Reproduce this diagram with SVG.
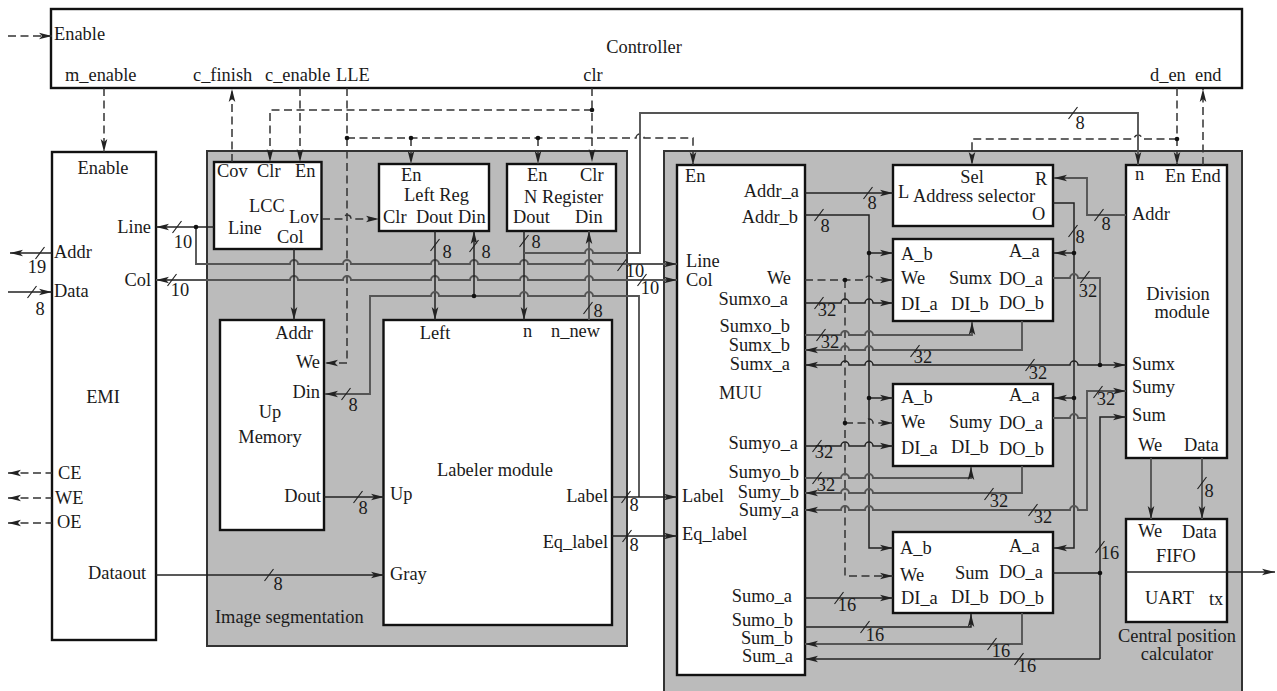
<svg xmlns="http://www.w3.org/2000/svg" width="1277" height="691" viewBox="0 0 1277 691">
<defs>
<marker id="a" markerUnits="userSpaceOnUse" markerWidth="14" markerHeight="8" refX="13" refY="4" orient="auto-start-reverse"><path d="M0 .7L13 4L0 7.3L3 4z" fill="#222"/></marker>
</defs>
<style>
text{font-family:"Liberation Serif","Times New Roman",serif;font-size:18.400px;fill:#1a1a1a}
.m{text-anchor:middle}.e{text-anchor:end}
.b{fill:#fff;stroke:#111;stroke-width:2.400}
.r{fill:#bbb;stroke:#333;stroke-width:2}
.l,.g,.d,.s{fill:none}
.l{stroke:#222;stroke-width:1.500}
.g{stroke:#555;stroke-width:1.900}
.d{stroke:#333;stroke-width:1.500;stroke-dasharray:8 4.500}
.s{stroke:#222;stroke-width:1.200}
.a{marker-end:url(#a)}.n{marker-start:url(#a)}
.o{fill:#111}
</style>
<rect width="1277" height="691" fill="#fff"/>
<g id="image-segmentation"><rect class="r" x="207" y="151" width="420" height="495"/><text x="215" y="623">Image segmentation</text></g>
<g id="central-position-calculator"><rect class="r" x="664" y="151" width="578" height="545"/><text class="m" x="1177" y="642">Central position</text><text class="m" x="1177" y="660">calculator</text></g>
<g id="controller"><rect class="b" x="51" y="9" width="1191" height="79"/><text x="54" y="40">Enable</text><text class="m" x="644" y="53">Controller</text><text x="65" y="81">m_enable</text><text x="193" y="81">c_finish</text><text x="265" y="81">c_enable</text><text x="336" y="81">LLE</text><text class="m" x="593" y="81">clr</text><text x="1150" y="81">d_en</text><text x="1195" y="81">end</text></g>
<g id="emi"><rect class="b" x="52" y="152" width="104" height="488"/><text class="m" x="103" y="174">Enable</text><text class="e" x="151" y="233">Line</text><text class="e" x="151" y="286">Col</text><text x="54" y="258">Addr</text><text x="54" y="297">Data</text><text class="m" x="103" y="403">EMI</text><text x="58" y="479">CE</text><text x="55" y="504">WE</text><text x="57" y="528">OE</text><text x="88" y="579">Dataout</text></g>
<g id="lcc"><rect class="b" x="214" y="162" width="107.500" height="87"/><text x="217" y="177">Cov</text><text x="257" y="177">Clr</text><text x="295" y="177">En</text><text x="249" y="212">LCC</text><text x="228" y="234">Line</text><text x="289" y="223">Lov</text><text x="277" y="243">Col</text></g>
<g id="left-reg"><rect class="b" x="379" y="164" width="110" height="67"/><text x="401" y="181">En</text><text x="404" y="201">Left Reg</text><text x="383" y="223">Clr</text><text x="416" y="223">Dout</text><text x="458" y="223">Din</text></g>
<g id="n-register"><rect class="b" x="507" y="164" width="109" height="67"/><text x="527" y="181">En</text><text x="580" y="181">Clr</text><text x="524" y="203">N Register</text><text x="513" y="223">Dout</text><text x="575" y="223">Din</text></g>
<g id="up-memory"><rect class="b" x="220" y="320" width="104" height="210"/><text class="e" x="313" y="339">Addr</text><text class="e" x="320" y="368">We</text><text class="e" x="320" y="398">Din</text><text class="m" x="270" y="418">Up</text><text class="m" x="270" y="443">Memory</text><text class="e" x="321" y="502">Dout</text></g>
<g id="labeler"><rect class="b" x="383.500" y="320" width="228.500" height="305"/><text class="m" x="435" y="339">Left</text><text x="523" y="337">n</text><text x="551" y="337">n_new</text><text class="m" x="495" y="476">Labeler module</text><text x="390" y="500">Up</text><text x="390" y="580">Gray</text><text class="e" x="608" y="502">Label</text><text class="e" x="608" y="548">Eq_label</text></g>
<g id="muu"><rect class="b" x="677" y="165" width="128" height="510"/><text x="685" y="182">En</text><text class="e" x="799" y="197">Addr_a</text><text class="e" x="798" y="223">Addr_b</text><text x="686" y="267">Line</text><text x="686" y="286">Col</text><text class="e" x="791" y="284">We</text><text class="e" x="788" y="305">Sumxo_a</text><text class="e" x="790" y="332">Sumxo_b</text><text class="e" x="790" y="351">Sumx_b</text><text class="e" x="790" y="370">Sumx_a</text><text x="719" y="399">MUU</text><text class="e" x="798" y="449">Sumyo_a</text><text class="e" x="799" y="478">Sumyo_b</text><text class="e" x="799" y="498">Sumy_b</text><text class="e" x="799" y="516">Sumy_a</text><text x="682" y="502">Label</text><text x="682" y="540">Eq_label</text><text class="e" x="792" y="602">Sumo_a</text><text class="e" x="793" y="626">Sumo_b</text><text class="e" x="793" y="644">Sum_b</text><text class="e" x="793" y="662">Sum_a</text></g>
<g id="address-selector"><rect class="b" x="893" y="165" width="160" height="61"/><text class="m" x="972" y="183">Sel</text><text x="1035" y="185">R</text><text x="898" y="198">L</text><text x="913" y="202">Address selector</text><text x="1032" y="220">O</text></g>
<g id="sumx"><rect class="b" x="893" y="239" width="160" height="82"/><text x="901" y="260">A_b</text><text x="1009" y="257">A_a</text><text x="901" y="284">We</text><text x="949" y="284">Sumx</text><text x="999" y="285">DO_a</text><text x="901" y="310">DI_a</text><text x="951" y="310">DI_b</text><text x="999" y="309">DO_b</text></g>
<g id="sumy"><rect class="b" x="893" y="384" width="160" height="82"/><text x="901" y="403">A_b</text><text x="1009" y="401">A_a</text><text x="901" y="428">We</text><text x="949" y="428">Sumy</text><text x="999" y="429">DO_a</text><text x="901" y="454">DI_a</text><text x="951" y="453">DI_b</text><text x="999" y="455">DO_b</text></g>
<g id="sum"><rect class="b" x="893" y="532" width="160" height="81"/><text x="900" y="554">A_b</text><text x="1009" y="552">A_a</text><text x="900" y="581">We</text><text x="955" y="579">Sum</text><text x="999" y="578">DO_a</text><text x="901" y="604">DI_a</text><text x="951" y="603">DI_b</text><text x="999" y="604">DO_b</text></g>
<g id="division"><rect class="b" x="1126" y="165" width="101" height="293"/><text x="1135" y="180">n</text><text x="1165" y="182">En</text><text x="1191" y="182">End</text><text x="1132" y="220">Addr</text><text class="m" x="1178" y="300">Division</text><text class="m" x="1182" y="318">module</text><text x="1132" y="370">Sumx</text><text x="1132" y="393">Sumy</text><text x="1132" y="421">Sum</text><text x="1138" y="451">We</text><text x="1184" y="451">Data</text></g>
<g id="fifo-uart"><rect class="b" x="1126" y="519" width="101" height="103"/><text x="1138" y="537">We</text><text x="1182" y="538">Data</text><text x="1156" y="562">FIFO</text><text x="1145" y="604">UART</text><text x="1209" y="605">tx</text></g>
<g id="connectors">
<path class="d a" d="M8 36H52"/>
<path class="d a" d="M104 88V152"/>
<path class="d a" d="M232 162V89"/>
<path class="d a" d="M592 88V162"/>
<path class="d a" d="M592 110H270V162"/>
<path class="d a" d="M300 88V162"/>
<path class="d a" d="M347 88V363H325"/>
<path class="d a" d="M347 138H636a4 4 0 0 1 8 0H693V165"/>
<path class="d a" d="M411 138V164"/>
<path class="d a" d="M538 138V164"/>
<path class="d a" d="M322 219H343a4 4 0 0 1 8 0H379"/>
<path class="d a" d="M1177 88V165"/>
<path class="d a" d="M1177 139H1142a4 4 0 0 0 -8 0H972V165"/>
<path class="d a" d="M1203 165V89"/>
<path class="d a" d="M805 280H865a4 4 0 0 1 8 0H893"/>
<path class="d a" d="M845 280V576H893"/>
<path class="d a" d="M845 423H865a4 4 0 0 1 8 0H893"/>
<path class="d n" d="M8 473H52"/>
<path class="d n" d="M8 498H52"/>
<path class="d n" d="M8 523H52"/>
<path class="l n" d="M10 253H52"/>
<path class="l a" d="M8 292H52"/>
<path class="l n" d="M156 227H214"/>
<path class="g a" d="M196 227V264H290a4 4 0 0 1 8 0H343a4 4 0 0 1 8 0H431a4 4 0 0 1 8 0H470a4 4 0 0 1 8 0H520a4 4 0 0 1 8 0H585a4 4 0 0 1 8 0H677"/>
<path class="g n a" d="M156 280H290a4 4 0 0 1 8 0H343a4 4 0 0 1 8 0H431a4 4 0 0 1 8 0H470a4 4 0 0 1 8 0H520a4 4 0 0 1 8 0H585a4 4 0 0 1 8 0H677"/>
<path class="l a" d="M294 249V320"/>
<path class="l a" d="M435 231V320"/>
<path class="l a" d="M474 296V231"/>
<path class="l a" d="M524 231V320"/>
<path class="g a" d="M589 320V231"/>
<path class="g a" d="M524 253H585a4 4 0 0 1 8 0H640V113H1138V165"/>
<path class="g a" d="M639 497V296H593a4 4 0 0 0 -8 0H528a4 4 0 0 0 -8 0H439a4 4 0 0 0 -8 0H370V394H325"/>
<path class="l a" d="M324 497H384"/>
<path class="l a" d="M156 575H384"/>
<path class="l a" d="M612 497H677"/>
<path class="l a" d="M612 536H677"/>
<path class="l a" d="M805 193H893"/>
<path class="l a" d="M805 215H869V548H893"/>
<path class="l a" d="M869 253H893"/>
<path class="l a" d="M869 398H893"/>
<path class="l a" d="M1053 203H1074V548H1054"/>
<path class="l a" d="M1074 253H1054"/>
<path class="l a" d="M1074 398H1054"/>
<path class="g a" d="M1126 215H1087V178H1054"/>
<path class="g" d="M1053 278H1070a4 4 0 0 1 8 0H1100V365"/>
<path class="l a" d="M805 303H841a4 4 0 0 1 8 0H865a4 4 0 0 1 8 0H893"/>
<path class="g a" d="M805 335H841a4 4 0 0 1 8 0H865a4 4 0 0 1 8 0H972V322"/>
<path class="g n" d="M805 350H841a4 4 0 0 1 8 0H865a4 4 0 0 1 8 0H1022V321"/>
<path class="l n a" d="M805 365H841a4 4 0 0 1 8 0H865a4 4 0 0 1 8 0H1070a4 4 0 0 1 8 0H1126"/>
<path class="l a" d="M805 446H841a4 4 0 0 1 8 0H865a4 4 0 0 1 8 0H893"/>
<path class="g a" d="M805 478H841a4 4 0 0 1 8 0H865a4 4 0 0 1 8 0H971V467"/>
<path class="g n" d="M805 493H841a4 4 0 0 1 8 0H865a4 4 0 0 1 8 0H1022V466"/>
<path class="g n a" d="M805 510H841a4 4 0 0 1 8 0H865a4 4 0 0 1 8 0H1070a4 4 0 0 1 8 0H1087V391H1126"/>
<path class="g" d="M1053 418H1070a4 4 0 0 1 8 0H1087"/>
<path class="l" d="M1053 573H1100"/>
<path class="l a" d="M1100 659V417H1126"/>
<path class="l n" d="M805 659H1100"/>
<path class="l a" d="M805 598H893"/>
<path class="l a" d="M805 627H971V614"/>
<path class="g n" d="M805 644H1022V613"/>
<path class="g a" d="M1151 458V519"/>
<path class="g a" d="M1202 458V519"/>
<path class="l a" d="M1126 572H1275"/>
<g class="o">
<circle cx="196" cy="227" r="2.300"/><circle cx="347" cy="138" r="2.300"/><circle cx="411" cy="138" r="2.300"/><circle cx="538" cy="138" r="2.300"/><circle cx="592" cy="110" r="2.300"/><circle cx="474" cy="296" r="2.300"/><circle cx="1177" cy="139" r="2.300"/><circle cx="869" cy="253" r="2.300"/><circle cx="869" cy="398" r="2.300"/><circle cx="1074" cy="253" r="2.300"/><circle cx="1074" cy="398" r="2.300"/><circle cx="845" cy="280" r="2.300"/><circle cx="845" cy="423" r="2.300"/><circle cx="1100" cy="365" r="2.300"/><circle cx="1100" cy="573" r="2.300"/>
</g>
<path class="s" d="M35.500 259l9 -12M27.500 298l9 -12M172.500 233l9 -12M167.500 286l9 -12M430.500 251l9 -12M469.500 252l9 -12M519.500 247l9 -12M583.500 314l9 -12M617.500 271l9 -12M637.500 286l9 -12M341.500 400l9 -12M353.500 503l9 -12M264.500 581l9 -12M621.500 503l9 -12M622.500 542l9 -12M863.500 199l9 -12M814.500 221l9 -12M814.500 309l9 -12M816.500 341l9 -12M910.500 357l9 -12M1025.500 371l9 -12M1068.500 237l9 -12M1094.500 221l9 -12M1080.500 283l9 -12M1068.500 119l9 -12M1093.500 398l9 -12M812.500 452l9 -12M812.500 484l9 -12M984.500 500l9 -12M1028.500 516l9 -12M1095.500 553l9 -12M834.500 604l9 -12M860.500 633l9 -12M987.500 650l9 -12M1014.500 665l9 -12M1197.500 489l9 -12"/>
<g id="bus-widths">
<text class="m" x="37" y="273">19</text><text class="m" x="40" y="315">8</text><text class="m" x="183" y="248">10</text><text class="m" x="180" y="296">10</text><text class="m" x="447" y="258">8</text><text class="m" x="486" y="258">8</text><text class="m" x="536" y="248">8</text><text class="m" x="598" y="317">8</text><text class="m" x="635" y="277">10</text><text class="m" x="650" y="294">10</text><text class="m" x="353" y="411">8</text><text class="m" x="363" y="514">8</text><text class="m" x="278" y="590">8</text><text class="m" x="634" y="511">8</text><text class="m" x="634" y="551">8</text><text class="m" x="872" y="209">8</text><text class="m" x="825" y="232">8</text><text class="m" x="827" y="316">32</text><text class="m" x="830" y="348">32</text><text class="m" x="923" y="363">32</text><text class="m" x="1038" y="379">32</text><text class="m" x="1080" y="243">8</text><text class="m" x="1106" y="230">8</text><text class="m" x="1088" y="297">32</text><text class="m" x="1080" y="129">8</text><text class="m" x="1106" y="405">32</text><text class="m" x="824" y="458">32</text><text class="m" x="826" y="491">32</text><text class="m" x="999" y="507">32</text><text class="m" x="1043" y="523">32</text><text class="m" x="1110" y="559">16</text><text class="m" x="847" y="611">16</text><text class="m" x="875" y="641">16</text><text class="m" x="1001" y="657">16</text><text class="m" x="1027" y="672">16</text><text class="m" x="1209" y="497">8</text>
</g>
</g>
</svg>
